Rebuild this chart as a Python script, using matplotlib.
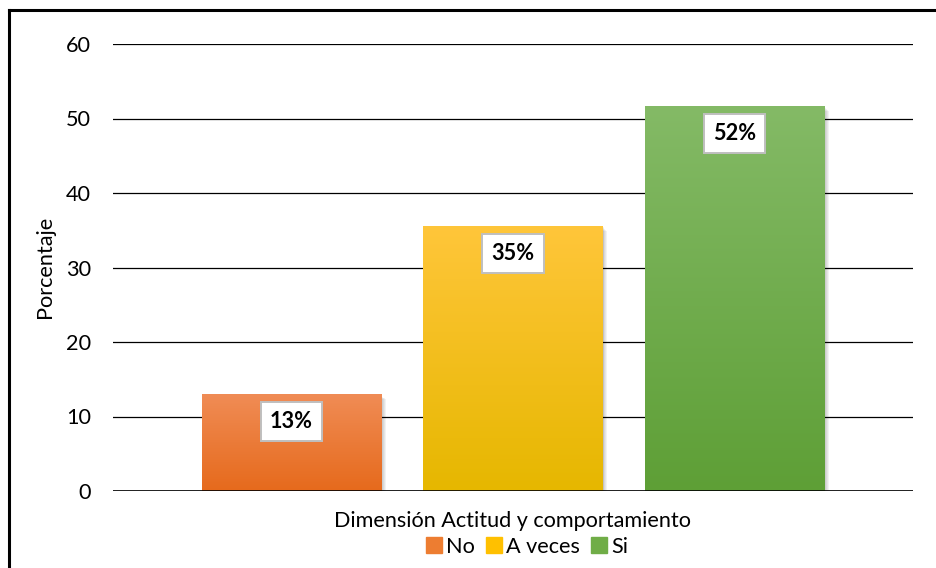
import numpy as np
import matplotlib
matplotlib.use("Agg")
import matplotlib.pyplot as plt
from matplotlib.colors import LinearSegmentedColormap
from matplotlib.patches import Rectangle
from matplotlib.lines import Line2D

plt.rcParams['font.family'] = ['Lato', 'DejaVu Sans']
FS = 15.6

# data
series = ['No', 'A veces', 'Si']
values = [12.9, 35.5, 51.6]
labels = ['13%', '35%', '52%']
category = 'Dimensión Actitud y comportamiento'
top_colors = ['#f08c55', '#ffc63a', '#84ba66']
bot_colors = ['#e66a1c', '#e6b700', '#5e9f36']
legend_colors = ['#ed7d31', '#ffc000', '#70ad47']

fig = plt.figure(figsize=(9.36, 5.68), dpi=100)
ax = fig.add_axes([113 / 936, 1 - 491 / 568, 800 / 936, 447 / 568])

x = np.arange(len(series)) - 1
width = 0.81
bars = ax.bar(x, values, width=width, color='none', zorder=3)

grad = np.linspace(1, 0, 256).reshape(-1, 1)
for b, c0, c1, lab in zip(bars, top_colors, bot_colors, labels):
    x0, y0 = b.get_x(), b.get_y()
    w, h = b.get_width(), b.get_height()
    # soft shadow
    for k in range(1, 6):
        ax.add_patch(Rectangle((x0 + 0.004 * k, y0 - 0.12 * k), w, h,
                               facecolor='black', alpha=0.05, lw=0, zorder=2))
    cmap = LinearSegmentedColormap.from_list('g', [c1, c0])
    ax.imshow(grad, extent=(x0, x0 + w, y0, y0 + h), cmap=cmap, aspect='auto',
              zorder=3, interpolation='bicubic')
    ax.text(x0 + w / 2, y0 + h - 3.6, lab, ha='center', va='center',
            fontsize=FS, fontweight='bold', color='black', zorder=5,
            bbox=dict(boxstyle='square,pad=0.42', facecolor='white',
                      edgecolor='#bfbfbf', linewidth=1.4))

ax.set_xlim(-1.806, 1.806)
ax.set_ylim(0, 60)
ax.set_yticks(np.arange(0, 61, 10))
ax.set_xticks([])
ax.yaxis.grid(True, color='black', linewidth=0.9, zorder=1)
ax.set_axisbelow(True)
for s in ax.spines.values():
    s.set_visible(False)
ax.tick_params(axis='y', length=0, pad=16, labelsize=FS)
ax.axhline(0, color='black', linewidth=1.2, zorder=4)

fig.text(45 / 936, 1 - 267 / 568, 'Porcentaje', rotation=90, ha='center',
         va='center', fontsize=FS)
fig.text(513 / 936, 1 - 521 / 568, category, ha='center', va='center',
         fontsize=FS)

handles = [Line2D([], [], marker='s', linestyle='none', markersize=11,
                  markerfacecolor=c, markeredgecolor=c) for c in legend_colors]
fig.legend(handles, series, loc='center', bbox_to_anchor=(526 / 936, 1 - 547 / 568),
           ncol=3, frameon=False, fontsize=FS, handletextpad=0.1,
           columnspacing=0.45, handlelength=0.9, borderaxespad=0)

# outer border of the chart area
fig.add_artist(Line2D([9 / 936, 1.0], [1 - 10 / 568] * 2, color='black', lw=2.2,
                      transform=fig.transFigure))
fig.add_artist(Line2D([9 / 936] * 2, [0, 1 - 10 / 568], color='black', lw=2.2,
                      transform=fig.transFigure))

fig.savefig('out.png', dpi=100)
